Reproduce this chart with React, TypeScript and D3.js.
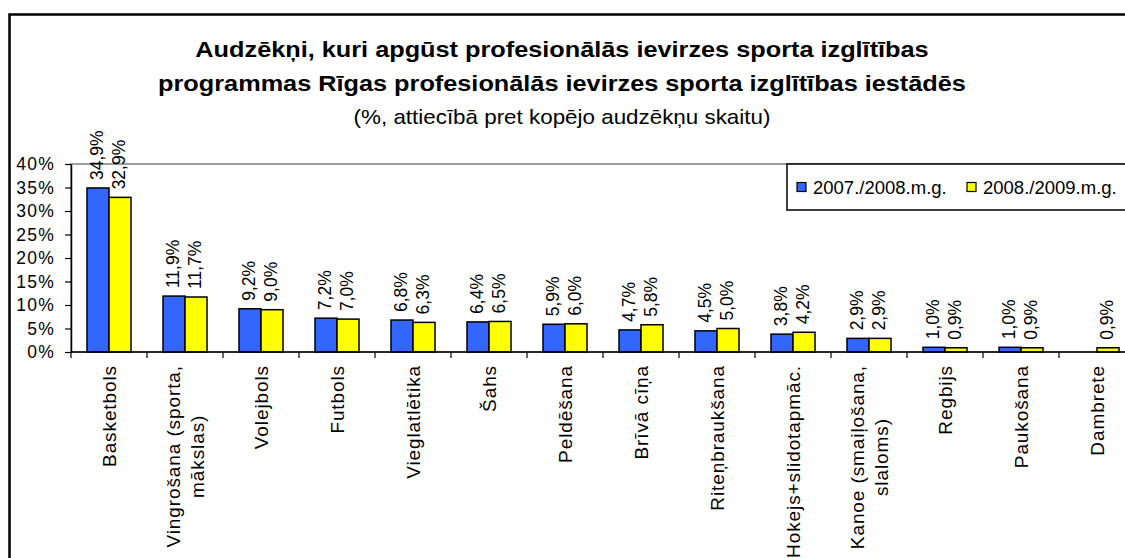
import React, { useRef, useEffect } from "react";
import * as d3 from "d3";

// categories ("|" splits a label into lines)
const categories = [
  "Basketbols",
  "Vingrošana (sporta,|mākslas)",
  "Volejbols",
  "Futbols",
  "Vieglatlētika",
  "Šahs",
  "Peldēšana",
  "Brīvā cīņa",
  "Riteņbraukšana",
  "Hokejs+slidotapmāc.",
  "Kanoe (smaiļošana,|slaloms)",
  "Regbijs",
  "Paukošana",
  "Dambrete",
];

const seriesNames = ["2007./2008.m.g.", "2008./2009.m.g."];
const seriesColors = ["#3366ff", "#ffff00"];

const values2007 = [34.9, 11.9, 9.2, 7.2, 6.8, 6.4, 5.9, 4.7, 4.5, 3.8, 2.9, 1.0, 1.0, null];
const values2008 = [32.9, 11.7, 9.0, 7.0, 6.3, 6.5, 6.0, 5.8, 5.0, 4.2, 2.9, 0.9, 0.9, 0.9];

const yTicks = [0, 5, 10, 15, 20, 25, 30, 35, 40];

const titleLines = [
  "Audzēkņi, kuri apgūst profesionālās ievirzes sporta izglītības",
  "programmas Rīgas profesionālās ievirzes sporta izglītības iestādēs",
];
const subtitle = "(%, attiecībā pret kopējo audzēkņu skaitu)";

const FONT = "Arial, 'Liberation Sans', sans-serif";

export default function App() {
  const svgRef = useRef<SVGSVGElement>(null);

  useEffect(() => {
    const svg = d3.select(svgRef.current);
    svg.selectAll("*").remove();

    const width = 1125;
    const height = 558;
    const left = 71;
    const top = 164;
    const bottom = 352;
    const step = 76;
    const right = left + step * categories.length;

    svg.attr("width", width).attr("height", height).style("font-family", FONT);

    svg.append("rect").attr("width", width).attr("height", height).attr("fill", "#fff");

    // outer frame (runs off the right and bottom edges)
    svg.append("rect")
      .attr("x", 9.5).attr("y", 14.5)
      .attr("width", 1300).attr("height", 700)
      .attr("fill", "none").attr("stroke", "#000").attr("stroke-width", 2.5);

    // titles - the original text is a bit wider than Arial, so stretch it
    const tg = svg.append("g").attr("text-anchor", "middle").attr("fill", "#000");
    titleLines.forEach((t, i) => {
      tg.append("text")
        .attr("transform", `translate(562,${57 + i * 34}) scale(1.15,1)`)
        .attr("font-size", 22).attr("font-weight", "bold")
        .text(t);
    });
    tg.append("text")
      .attr("transform", "translate(562,124) scale(1.12,1)")
      .attr("font-size", 20)
      .text(subtitle);

    const x = d3.scaleBand<number>()
      .domain(d3.range(categories.length))
      .range([left, right])
      .padding(0);

    const x1 = d3.scaleBand<number>()
      .domain([0, 1])
      .range([16, step - 16])
      .padding(0);

    const y = d3.scaleLinear().domain([0, 40]).range([bottom, top]);

    // plot area border
    svg.append("rect")
      .attr("x", left).attr("y", top)
      .attr("width", right - left).attr("height", bottom - top)
      .attr("fill", "none").attr("stroke", "#808080").attr("stroke-width", 1.5);

    const series = [values2007, values2008];

    // bars
    series.forEach((vals, si) => {
      svg.append("g")
        .selectAll("rect")
        .data(vals.map((v, i) => ({ v, i })).filter((d) => d.v != null))
        .join("rect")
        .attr("x", (d) => (x(d.i) as number) + (x1(si) as number))
        .attr("y", (d) => y(d.v as number))
        .attr("width", x1.bandwidth())
        .attr("height", (d) => bottom - y(d.v as number))
        .attr("fill", seriesColors[si])
        .attr("stroke", "#000")
        .attr("stroke-width", 1.5);
    });

    // data labels
    series.forEach((vals, si) => {
      svg.append("g")
        .selectAll("text")
        .data(vals.map((v, i) => ({ v, i })).filter((d) => d.v != null))
        .join("text")
        .attr("transform", (d) => {
          const cx = (x(d.i) as number) + (x1(si) as number) + x1.bandwidth() / 2 - 1;
          return `translate(${cx},${y(d.v as number) - 8}) rotate(-90)`;
        })
        .attr("dy", "0.36em")
        .attr("font-size", 17.5)
        .attr("fill", "#000")
        .text((d) => `${(d.v as number).toFixed(1).replace(".", ",")}%`);
    });

    // y axis
    const yAxis = svg.append("g")
      .attr("transform", `translate(${left},0)`)
      .call(
        d3.axisLeft(y)
          .tickValues(yTicks)
          .tickFormat((d) => `${d}%`)
          .tickSize(6)
          .tickSizeOuter(0)
          .tickPadding(10)
      );
    yAxis.select(".domain").attr("stroke", "#000").attr("stroke-width", 1.5);
    yAxis.selectAll(".tick line").attr("stroke", "#000").attr("stroke-width", 1.2);
    yAxis.selectAll(".tick text")
      .attr("font-size", 17.5)
      .attr("letter-spacing", 1.2)
      .attr("font-family", FONT)
      .attr("fill", "#000");

    // x axis
    const xg = svg.append("g");
    xg.append("line")
      .attr("x1", left).attr("x2", right)
      .attr("y1", bottom).attr("y2", bottom)
      .attr("stroke", "#000").attr("stroke-width", 1.5);
    xg.selectAll("line.tk")
      .data(d3.range(categories.length + 1))
      .join("line")
      .attr("class", "tk")
      .attr("x1", (i) => left + i * x.bandwidth())
      .attr("x2", (i) => left + i * x.bandwidth())
      .attr("y1", bottom).attr("y2", bottom + 6)
      .attr("stroke", "#000").attr("stroke-width", 1.2);

    // category labels, rotated; lines centred within the block
    const labelTop = 365;
    const lineGap = 24;
    categories.forEach((c, i) => {
      const lines = c.split("|");
      const cx = (x(i) as number) + x.bandwidth() / 2;
      const g = xg.append("g");
      const texts = lines.map((l) =>
        g.append("text")
          .attr("font-size", 19)
          .attr("letter-spacing", 0.9)
          .attr("fill", "#000")
          .attr("text-anchor", "middle")
          .text(l)
      );
      const maxLen = d3.max(texts, (t) => (t.node() as SVGTextElement).getComputedTextLength()) || 0;
      const mid = labelTop + maxLen / 2;
      texts.forEach((t, li) => {
        const off = (li - (lines.length - 1) / 2) * lineGap;
        t.attr("transform", `translate(${cx + off},${mid}) rotate(-90)`).attr("dy", "0.36em");
      });
    });

    // legend
    const lg = svg.append("g");
    lg.append("rect")
      .attr("x", 787).attr("y", 164)
      .attr("width", 400).attr("height", 46)
      .attr("fill", "#fff").attr("stroke", "#000").attr("stroke-width", 1.5);
    const legendX = [797, 967];
    seriesNames.forEach((n, si) => {
      lg.append("rect")
        .attr("x", legendX[si]).attr("y", 182.5)
        .attr("width", 9).attr("height", 9)
        .attr("fill", seriesColors[si]).attr("stroke", "#000").attr("stroke-width", 1.2);
      lg.append("text")
        .attr("x", legendX[si] + 16).attr("y", 193.5)
        .attr("font-size", 18.5)
        .attr("fill", "#000")
        .text(n);
    });
  }, []);

  return (
    <svg
      ref={svgRef}
      style={{ position: "absolute", left: 0, top: 0, display: "block" }}
    />
  );
}
